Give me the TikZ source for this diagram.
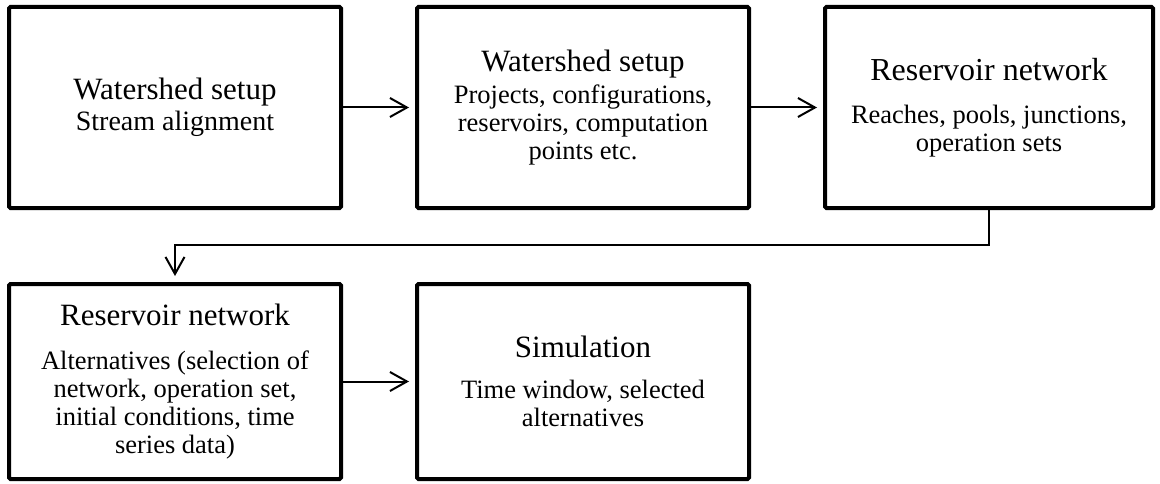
\documentclass[tikz,border=0pt]{standalone}
\usepackage{fontspec}
\setmainfont{Liberation Serif}
\usetikzlibrary{positioning,arrows.meta}

\newcommand{\ttlfont}{\fontsize{31}{34}\selectfont}
\newcommand{\subfont}{\fontsize{26.5}{28}\selectfont}

\begin{document}
\begin{tikzpicture}[x=1pt, y=1pt,
            node distance=72pt,
            stage/.style={draw, line width=4pt, rounded corners=1.5pt,
                          align=center, inner sep=0pt, font=\subfont,
                          minimum width=332pt, minimum height=201pt},
            conn/.style={-{Straight Barb[length=17pt,width=19pt]},
                         line width=2pt, shorten >=6pt},
            ]
            \useasboundingbox (0,0) rectangle (1160,483);

            % first row
            \node[stage, font=\fontsize{28}{30}\selectfont] (shed1) at (175,375.5)
                {{\ttlfont Watershed setup}\\[1pt] Stream alignment};
            \node[stage, right=of shed1] (shed2)
                {{\ttlfont Watershed setup}\\[4pt] Projects, configurations,\\
                 reservoirs, computation\\ points etc.};
            \node[stage, right=of shed2, minimum width=328pt] (res1)
                {{\fontsize{32}{34}\selectfont Reservoir network}\\[15pt] Reaches, pools, junctions,\\
                 operation sets};

            % second row
            \node[stage, below=of shed1, minimum height=195pt] (res2)
                {{\ttlfont Reservoir network}\\[16pt] Alternatives (selection of\\
                 network, operation set,\\ initial conditions, time\\ series data)};
            \node[stage, right=of res2, minimum height=195pt] (sim)
                {{\ttlfont Simulation}\\[13pt] Time window, selected\\ alternatives};

            \draw[conn] (shed1) -- (shed2);
            \draw[conn] (shed2) -- (res1);
            \draw[conn] (res1.south) -- ++(0,-35) -| (res2.north);
            \draw[conn] (res2) -- (sim);
        \end{tikzpicture}
\end{document}
